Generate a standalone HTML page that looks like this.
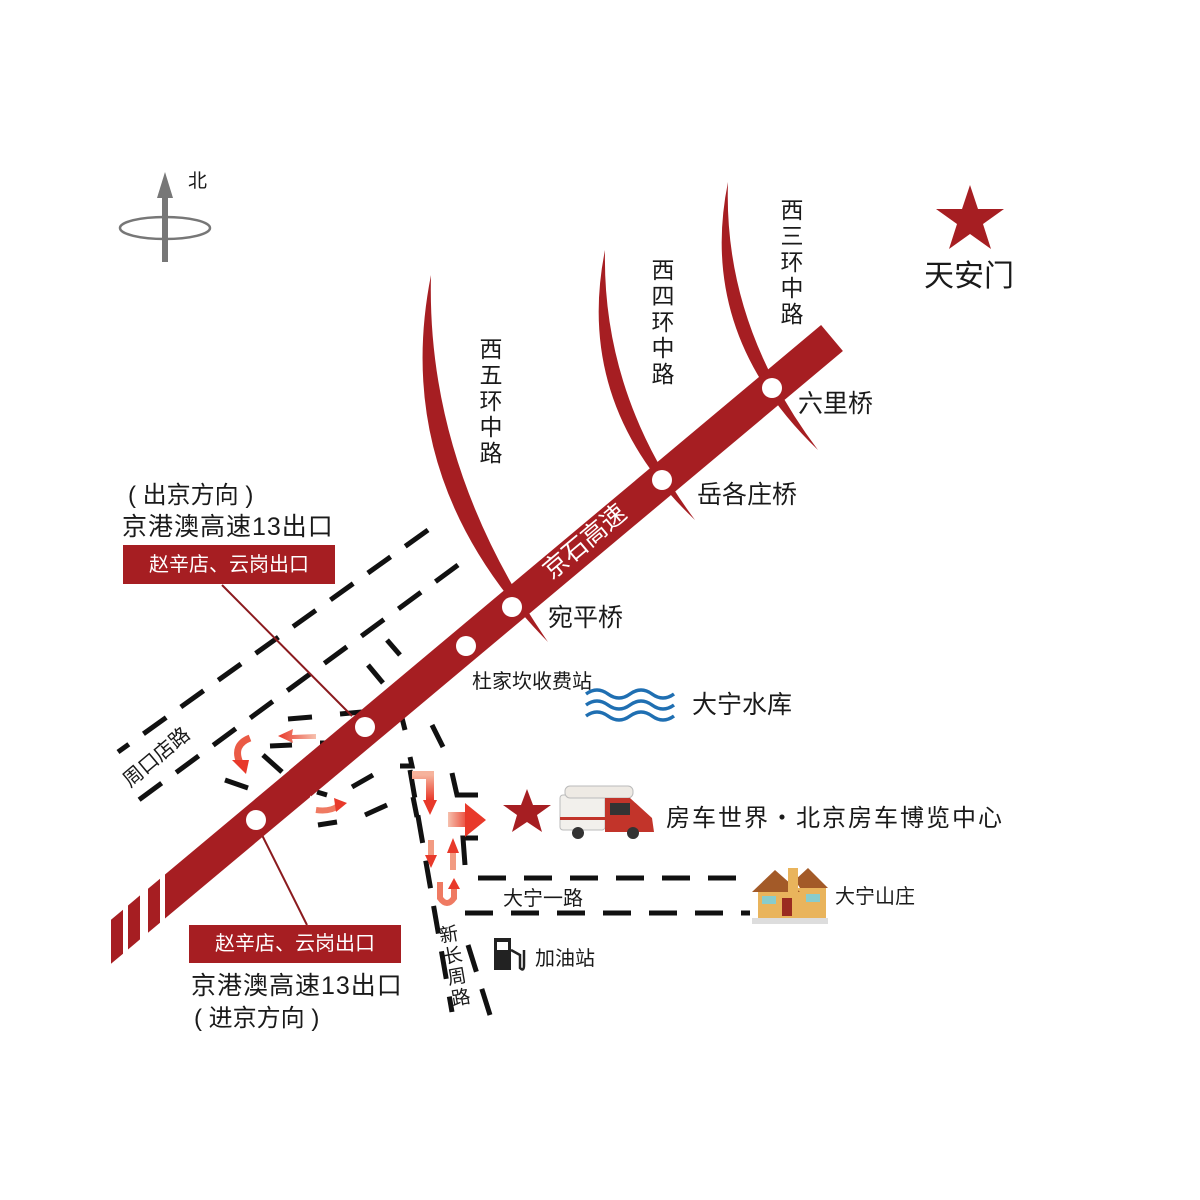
<!DOCTYPE html>
<html><head><meta charset="utf-8"><style>
html,body{margin:0;padding:0;background:#fff;}
svg{display:block;}
text{font-family:"Liberation Sans","Noto Sans CJK SC",sans-serif;fill:#1a1a1a;}
</style></head><body>
<svg width="1200" height="1200" viewBox="0 0 1200 1200" xmlns="http://www.w3.org/2000/svg">
<defs>
<linearGradient id="ga" x1="0" y1="0" x2="1" y2="0"><stop offset="0" stop-color="#f6c0ad"/><stop offset="1" stop-color="#e8392a"/></linearGradient>
<linearGradient id="gl" x1="1" y1="0" x2="0" y2="0"><stop offset="0" stop-color="#f6c0ad"/><stop offset="1" stop-color="#e8392a"/></linearGradient>
<linearGradient id="gv" x1="0" y1="0" x2="0" y2="1"><stop offset="0" stop-color="#f6b39c"/><stop offset="1" stop-color="#e8392a"/></linearGradient>
</defs>
<!-- compass -->
<ellipse cx="165" cy="228" rx="45" ry="11" fill="none" stroke="#777" stroke-width="2.5"/>
<line x1="165" y1="195" x2="165" y2="262" stroke="#777" stroke-width="6"/>
<polygon points="165,172 157,198 173,198" fill="#777"/>
<text x="188" y="187" font-size="19">北</text>

<!-- star Tiananmen -->
<polygon points="970,185 978,209 1004,209 983,224 991,249 970,234 949,249 957,224 936,209 962,209" fill="#a61e22"/>
<text x="924" y="286" font-size="30">天安门</text>

<!-- ring arcs -->
<g fill="#a61e22">
<path d="M431,275 Q390,481 548,642 Q426,465 431,275Z"/>
<path d="M605,250 Q574,405 695,520 Q602,395 605,250Z"/>
<path d="M728,182 Q697,334 818,450 Q723,324 728,182Z"/>
</g>

<!-- dashed roads -->
<g stroke="#111" stroke-width="5" fill="none" stroke-dasharray="28,18">
<path d="M428,530 L118,752"/>
<path d="M458,565 L132,805"/>
<path d="M410,770 L452,1012"/>
<path d="M468,945 L490,1015"/>
<path d="M478,878 L742,878"/>
<path d="M465,913 L750,913"/>
</g>
<g stroke="#111" stroke-width="5" fill="none">
<path d="M387,640 L400,655"/>
<path d="M368,665 L383,683"/>
<path d="M288,719 L312,717"/>
<path d="M340,714 L362,712"/>
<path d="M270,746 L292,745"/>
<path d="M320,743 L327,743"/>
<path d="M263,755 L282,772"/>
<path d="M225,780 L248,788"/>
<path d="M402,718 L405,730"/>
<path d="M432,725 L443,747"/>
<path d="M400,766 L412,766 L410,757"/>
<path d="M352,787 L373,775"/>
<path d="M317,792 L327,795"/>
<path d="M365,815 L387,805"/>
<path d="M318,825 L337,822"/>
<path d="M452,773 L457,795 L478,795"/>
<path d="M413,797 L417,817"/>
<path d="M478,838 L463,838 L465,865"/>
</g>

<!-- leader lines -->
<line x1="222" y1="585" x2="352" y2="716" stroke="#8b1a1e" stroke-width="2"/>
<line x1="262" y1="835" x2="307" y2="925" stroke="#8b1a1e" stroke-width="2"/>

<!-- highway -->
<line x1="300" y1="783.5" x2="832" y2="338" stroke="#a61e22" stroke-width="34"/>
<g fill="#a61e22">
<polygon points="165,874.5 310,753.2 310,797.2 165,918.5"/>
<polygon points="111,919.7 123,909.7 123,953.7 111,963.7"/>
<polygon points="128,905.5 140,895.4 140,939.4 128,949.5"/>
<polygon points="148,888.7 160,878.7 160,922.7 148,932.7"/>
</g>
<text transform="translate(590,548) rotate(-40)" font-size="25" text-anchor="middle" style="fill:#fff">京石高速</text>
<g fill="#fff">
<circle cx="772" cy="388" r="10"/>
<circle cx="662" cy="480" r="10"/>
<circle cx="512" cy="607" r="10"/>
<circle cx="466" cy="646" r="10"/>
<circle cx="365" cy="727" r="10"/>
<circle cx="256" cy="820" r="10"/>
</g>

<!-- arrows -->
<path d="M316,734 L292,735 L293,729 L278,736 L293,743 L292,739 L316,739Z" fill="url(#gl)"/>
<path d="M250,738 Q232,745 240,763" stroke="#ea5a45" stroke-width="7" fill="none"/>
<polygon points="232,760 249,760 246,774" fill="#e8392a"/>
<path d="M316,810 Q330,812 338,806" stroke="#ef7a62" stroke-width="6" fill="none"/>
<polygon points="334,798 347,803 336,812" fill="#e8392a"/>
<path d="M412,775 L430,775 L430,800" stroke="url(#gv)" stroke-width="8" fill="none"/>
<polygon points="423,800 437,800 430,815" fill="#e8392a"/>
<rect x="448" y="812" width="22" height="15" fill="url(#ga)"/>
<polygon points="465,803 486,820 465,837" fill="#e8392a"/>
<rect x="428" y="840" width="6" height="18" fill="#f29b82"/>
<polygon points="425,855 437,855 431,868" fill="#e8392a"/>
<rect x="450" y="852" width="6" height="18" fill="#f29b82"/>
<polygon points="447,853 459,853 453,838" fill="#e8392a"/>
<path d="M440,882 L440,898 Q447,908 454,898 L454,888" stroke="#ef7a62" stroke-width="6" fill="none"/>
<polygon points="448,889 460,889 454,878" fill="#e8392a"/>

<!-- boxes -->
<rect x="123" y="545" width="212" height="39" fill="#a61e22"/>
<text x="229" y="571" font-size="20" text-anchor="middle" style="fill:#fff">赵辛店、云岗出口</text>
<rect x="189" y="925" width="212" height="38" fill="#a61e22"/>
<text x="295" y="950" font-size="20" text-anchor="middle" style="fill:#fff">赵辛店、云岗出口</text>

<!-- labels -->
<text x="128" y="503" font-size="24">( 出京方向 )</text>
<text x="122" y="535" font-size="25" letter-spacing="1">京港澳高速13出口</text>
<text x="191" y="994" font-size="25" letter-spacing="1">京港澳高速13出口</text>
<text x="194" y="1026" font-size="24">( 进京方向 )</text>
<text transform="translate(130,788) rotate(-40)" font-size="20">周口店路</text>

<g font-size="23" text-anchor="middle">
<text x="792" y="218">西</text><text x="792" y="244">三</text><text x="792" y="270">环</text><text x="792" y="296">中</text><text x="792" y="322">路</text>
<text x="663" y="278">西</text><text x="663" y="304">四</text><text x="663" y="330">环</text><text x="663" y="356">中</text><text x="663" y="382">路</text>
<text x="491" y="357">西</text><text x="491" y="383">五</text><text x="491" y="409">环</text><text x="491" y="435">中</text><text x="491" y="461">路</text>
</g>
<text x="798" y="412" font-size="25">六里桥</text>
<text x="697" y="503" font-size="25">岳各庄桥</text>
<text x="548" y="626" font-size="25">宛平桥</text>
<text x="472" y="688" font-size="20">杜家坎收费站</text>

<!-- water -->
<g stroke="#1f6fb2" stroke-width="3.5" fill="none">
<path d="M586,694 q11,-8 22,0 t22,0 t22,0 t22,0"/>
<path d="M586,705 q11,-8 22,0 t22,0 t22,0 t22,0"/>
<path d="M586,716 q11,-8 22,0 t22,0 t22,0 t22,0"/>
</g>
<text x="692" y="713" font-size="25">大宁水库</text>

<!-- destination -->
<polygon points="527,789 533,805 551,805 537,815 542,832 527,822 512,832 517,815 503,805 521,805" fill="#a61e22"/>
<g>
<rect x="560" y="795" width="45" height="35" rx="3" fill="#f2f0ec" stroke="#bbb"/>
<rect x="565" y="786" width="68" height="12" rx="5" fill="#eeeae4" stroke="#bbb"/>
<path d="M605,798 L630,798 L652,818 L654,832 L605,832Z" fill="#c2342a"/>
<rect x="610" y="803" width="20" height="12" fill="#333"/>
<rect x="560" y="817" width="45" height="3" fill="#c2342a"/>
<circle cx="578" cy="833" r="6" fill="#333"/><circle cx="633" cy="833" r="6" fill="#333"/>
</g>
<text x="666" y="826" font-size="24" letter-spacing="2">房车世界・北京房车博览中心</text>

<!-- house -->
<g>
<rect x="758" y="888" width="68" height="30" fill="#e9b45c"/>
<polygon points="752,892 775,870 800,892" fill="#a35a28"/>
<polygon points="795,880 808,868 828,888 800,888" fill="#a35a28"/>
<rect x="788" y="868" width="10" height="24" fill="#e9b45c"/>
<rect x="762" y="896" width="14" height="8" fill="#8cc"/>
<rect x="782" y="898" width="10" height="18" fill="#9a2b20"/>
<rect x="806" y="894" width="14" height="8" fill="#8cc"/>
<rect x="752" y="918" width="76" height="6" fill="#ddd"/>
</g>
<text x="835" y="903" font-size="20">大宁山庄</text>
<text x="503" y="905" font-size="20">大宁一路</text>

<!-- gas -->
<rect x="494" y="938" width="17" height="32" fill="#222"/>
<rect x="497" y="942" width="11" height="8" fill="#fff"/>
<path d="M511,950 L520,955 L520,968 Q524,972 524,965 L524,950" stroke="#222" stroke-width="2.5" fill="none"/>
<text x="535" y="965" font-size="20">加油站</text>

<g font-size="19" text-anchor="middle">
<text transform="translate(450,941) rotate(-10)">新</text>
<text transform="translate(454,962) rotate(-10)">长</text>
<text transform="translate(458,983) rotate(-10)">周</text>
<text transform="translate(462,1004) rotate(-10)">路</text>
</g>
</svg>
</body></html>
